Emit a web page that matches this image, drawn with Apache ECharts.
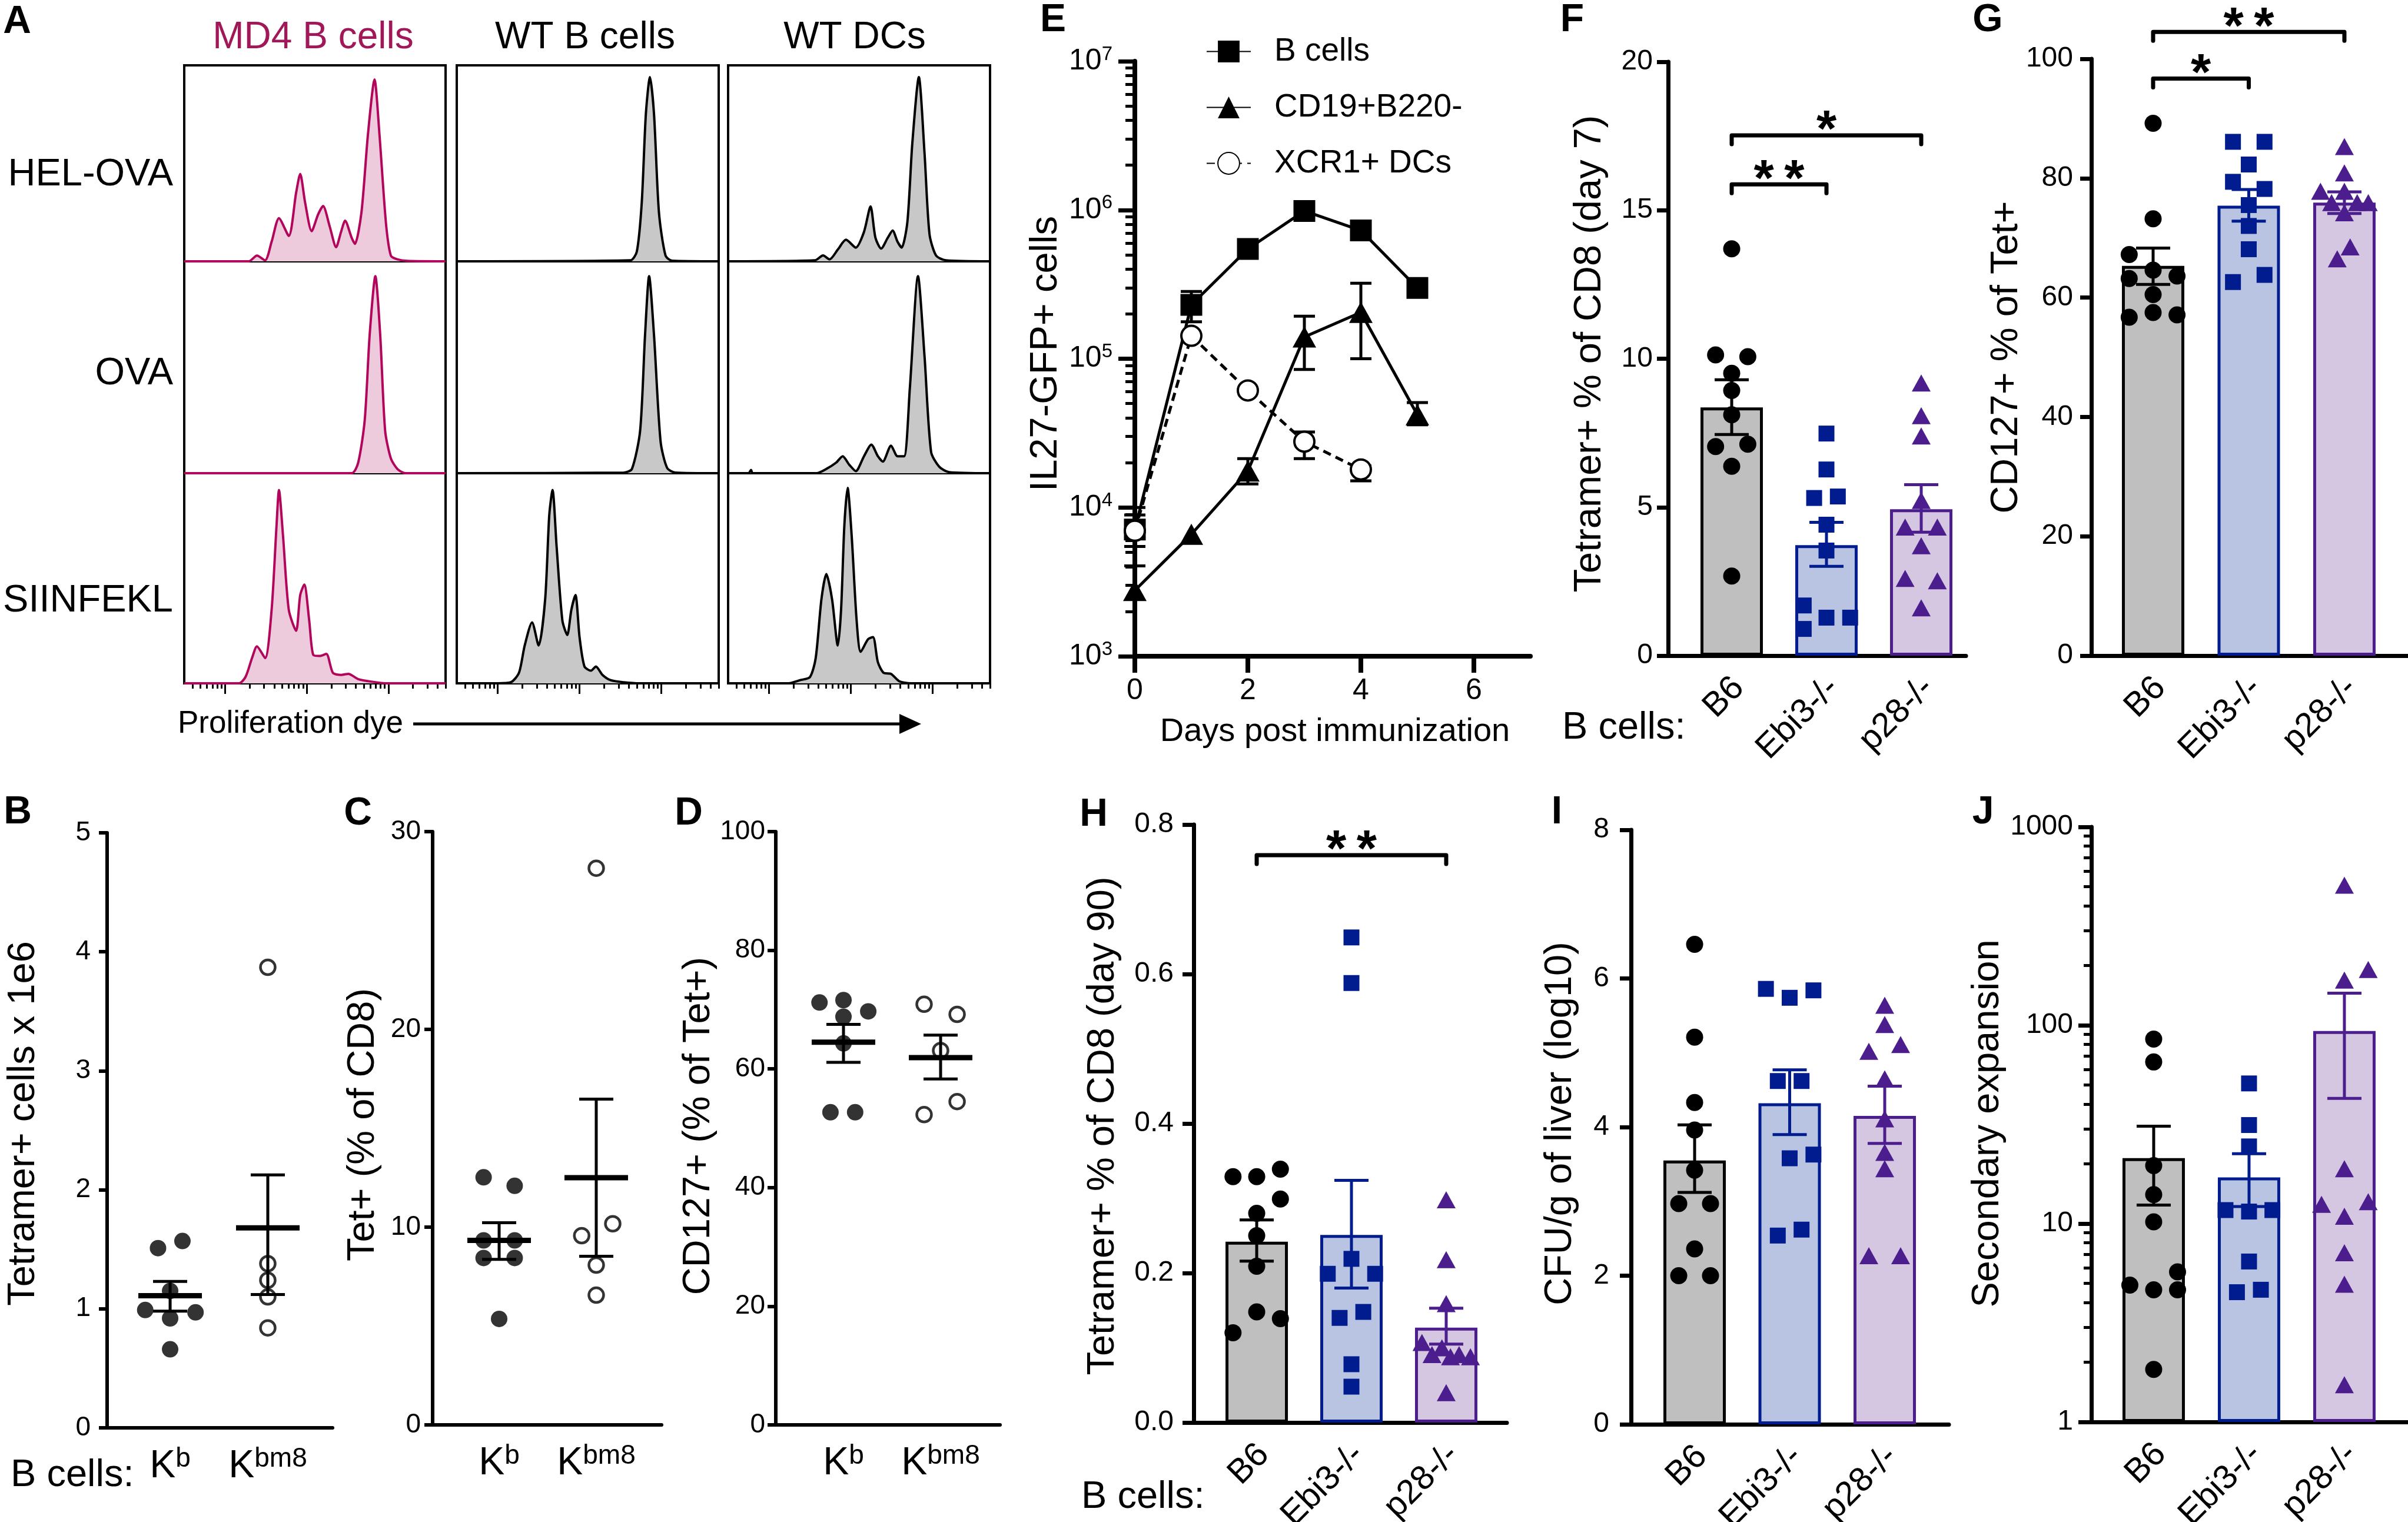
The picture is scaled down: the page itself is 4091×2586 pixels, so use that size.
<!DOCTYPE html>
<html><head><meta charset="utf-8">
<script src="https://cdn.jsdelivr.net/npm/echarts/dist/echarts.min.js"></script>
<style>html,body{margin:0;padding:0;background:#fff}#c{width:4091px;height:2586px}</style>
</head><body><div id="c"></div>
<script>
const FONT = '"Liberation Sans", Arial, Helvetica, sans-serif';

// ---------------- Panel A : proliferation histograms [log10 dye, % of mode] ----------------
const A_colTitles = ['MD4 B cells', 'WT B cells', 'WT DCs'];
const A_rowTitles = ['HEL-OVA', 'OVA', 'SIINFEKL'];
const A_MD4_HELOVA = [[0.5,0],[1.29,0],[1.39,2.9],[1.49,0.5],[1.57,10],[1.66,22],[1.78,13],[1.87,35],[1.92,44.6],[1.98,30],[2.06,15.4],[2.14,24],[2.2,28.2],[2.28,18],[2.36,7.2],[2.42,15],[2.47,20.7],[2.55,12],[2.59,8.9],[2.67,25],[2.75,65],[2.83,92.8],[2.89,65],[2.97,19.5],[3.03,2.9],[3.11,1],[3.23,0.2],[3.7,0]];
const A_WTB_HELOVA = [[0.5,0],[2.62,0.5],[2.7,5],[2.76,30],[2.81,75],[2.86,94],[2.91,75],[2.97,25],[3.05,3],[3.13,0.3],[3.7,0]];
const A_DC_HELOVA = [[0.5,0],[1.56,0.5],[1.66,3],[1.74,1],[1.84,6],[1.94,11],[2.06,7],[2.16,15],[2.24,28],[2.3,12],[2.37,6.5],[2.45,12],[2.51,15.7],[2.57,10],[2.62,7],[2.69,20],[2.75,60],[2.83,94],[2.9,55],[2.96,14],[3.04,3],[3.16,0.5],[3.7,0]];
const A_MD4_OVA = [[0.5,0],[2.55,0],[2.63,5],[2.71,25],[2.77,65],[2.84,93],[2.9,65],[2.96,20],[3.03,7],[3.11,2],[3.21,0],[3.7,0]];
const A_WTB_OVA = [[0.5,0],[2.54,0.3],[2.64,2],[2.74,20],[2.8,65],[2.85,93],[2.91,65],[2.99,15],[3.07,2.5],[3.17,0.3],[3.7,0]];
const A_DC_OVA = [[0.5,0],[0.75,0],[0.78,1.5],[0.8,0],[1.58,0],[1.7,2],[1.82,5],[1.9,8],[1.98,4],[2.06,1],[2.16,8],[2.25,13.5],[2.33,8],[2.39,5.5],[2.49,13],[2.57,8],[2.65,8],[2.72,40],[2.82,93],[2.9,55],[2.98,10],[3.08,3],[3.2,0.5],[3.7,0]];
const A_MD4_SIIN = [[0.5,0],[1.17,0],[1.25,3],[1.33,12],[1.39,17.6],[1.49,12],[1.57,35],[1.63,75],[1.66,92],[1.71,70],[1.78,35],[1.87,25],[1.92,42],[1.97,47],[2.03,30],[2.08,13.5],[2.16,13],[2.24,14],[2.32,5],[2.42,4],[2.51,4.5],[2.63,2],[2.79,0.8],[2.99,0],[3.7,0]];
const A_WTB_SIIN = [[0.5,0],[1.0,0],[1.16,0.5],[1.26,5],[1.33,18],[1.42,29],[1.5,18],[1.58,40],[1.63,80],[1.67,92],[1.72,65],[1.79,30],[1.85,23],[1.9,35],[1.95,42],[2.0,22],[2.06,8],[2.14,6],[2.2,8],[2.28,4],[2.38,1.5],[2.54,0.5],[2.74,0],[3.7,0]];
const A_DC_SIIN = [[0.5,0],[1.24,0],[1.38,1.5],[1.5,3],[1.57,12],[1.64,40],[1.7,52],[1.77,40],[1.84,18],[1.88,35],[1.92,75],[1.96,93],[2.01,70],[2.07,30],[2.12,15],[2.21,21],[2.27,22],[2.33,10],[2.4,5],[2.49,4.5],[2.59,1],[2.73,0],[3.7,0]];
const A_majorTicks = [1, 2, 3];

// ---------------- Panel E ----------------
const E_days = [0, 1, 2, 3, 4, 5];
const E_xTicks = [0, 2, 4, 6];
const E_Bcells = [7100, 230000, 547000, 985000, 728000, 299000];
const E_Bcells_err = [[4050, 10000], [177000, 283000], null, null, null, null];
const E_CD19 = [2770, 6600, 17600, 140000, 205000, 42000];
const E_CD19_err = [null, null, [14400, 21300], [84700, 193000], [100000, 322000], [36000, 50700]];
const E_XCR1 = [6970, 142500, 61200, 27700, 18000];
const E_XCR1_err = [[5470, 8900], null, null, [21300, 32200], [15100, 19000]];
const E_legend = ['B cells', 'CD19+B220-', 'XCR1+ DCs'];

// ---------------- Bar panels F-J ----------------
const GROUPS = ['B6', 'Ebi3-/-', 'p28-/-'];

const F_B6 = [13.7, 10.13, 10.07, 9.51, 8.93, 8.11, 7.04, 7.12, 6.38, 2.68];
const F_B6_jit = [0, -0.17, 0.17, 0, 0, 0, -0.17, 0.17, 0, 0];
const F_Ebi3 = [7.48, 6.27, 5.31, 5.36, 4.41, 3.54, 1.69, 0.9, 1.28, 1.28];
const F_Ebi3_jit = [0, 0, -0.13, 0.12, 0, 0, -0.24, -0.24, 0, 0.25];
const F_p28 = [9.18, 8.08, 7.4, 5.23, 4.33, 4.33, 3.7, 2.6, 2.52, 1.61];
const F_p28_jit = [0, 0, 0, 0, -0.17, 0.17, 0, -0.17, 0.17, 0];
const F_mean = [8.36, 3.72, 4.93];
const F_errLo = [7.45, 3.01, 4.16];
const F_errHi = [9.29, 4.49, 5.76];
const F_sig = [[0, 1, 15.87, '**'], [0, 2, 17.52, '*']];

const G_B6 = [89.2, 73.2, 67.2, 64.6, 63.2, 63.6, 60.5, 56.7, 57.5, 57.1];
const G_B6_jit = [0, 0, -0.25, 0, -0.25, 0.25, 0, -0.25, 0, 0.25];
const G_Ebi3 = [86.1, 86.1, 82.3, 79.4, 78.2, 75.5, 72.0, 68.1, 62.6, 63.8];
const G_Ebi3_jit = [-0.165, 0.165, 0, -0.165, 0.165, 0, 0, 0, -0.165, 0.165];
const G_p28 = [85.3, 80.9, 77.8, 77.8, 75.9, 75.9, 75.9, 74.2, 68.5, 66.5];
const G_p28_jit = [0, 0, -0.25, 0, -0.134, 0.134, 0.25, 0, 0.06, -0.075];
const G_mean = [65.3, 75.4, 75.9];
const G_errLo = [62.2, 72.8, 74.1];
const G_errHi = [68.3, 78.1, 77.7];
const G_sig = [[0, 1, 96.7, '*'], [0, 2, 104.5, '**']];

const H_B6 = [0.329, 0.329, 0.339, 0.299, 0.28, 0.25, 0.209, 0.148, 0.139, 0.12];
const H_B6_jit = [-0.25, 0, 0.25, 0.25, 0, 0, 0, 0, 0.25, -0.25];
const H_Ebi3 = [0.649, 0.588, 0.219, 0.199, 0.199, 0.14, 0.148, 0.078, 0.048];
const H_Ebi3_jit = [0, 0, 0, -0.25, 0.25, -0.125, 0.125, 0, 0];
const H_p28 = [0.298, 0.218, 0.159, 0.107, 0.091, 0.1, 0.088, 0.091, 0.088, 0.04];
const H_p28_jit = [0, 0, 0, -0.256, -0.15, -0.045, 0.045, 0.136, 0.256, 0];
const H_mean = [0.242, 0.251, 0.127];
const H_errLo = [0.216, 0.18, 0.105];
const H_errHi = [0.271, 0.324, 0.153];
const H_sig = [[0, 2, 0.759, '**']];

const I_B6 = [6.46, 5.21, 4.33, 3.96, 3.42, 2.97, 2.97, 2.36, 2.0, 2.0];
const I_B6_jit = [0, 0, 0, 0, 0, -0.167, 0.167, 0, -0.167, 0.167];
const I_Ebi3 = [5.86, 5.74, 5.84, 4.62, 4.62, 3.58, 3.63, 2.54, 2.62];
const I_Ebi3_jit = [-0.25, 0, 0.25, -0.125, 0.125, 0, 0.25, -0.125, 0.125];
const I_p28 = [5.64, 5.38, 5.02, 5.11, 4.65, 4.11, 3.66, 3.44, 2.27, 2.27];
const I_p28_jit = [0, 0, -0.167, 0.167, 0, 0, 0, 0, -0.167, 0.167];
const I_mean = [3.55, 4.32, 4.15];
const I_errLo = [3.12, 3.9, 3.78];
const I_errHi = [4.03, 4.77, 4.55];

const J_B6 = [85.1, 65.3, 19.6, 14.0, 10.2, 5.71, 4.9, 4.64, 4.64, 1.84];
const J_B6_jit = [0, 0, 0, 0, 0, 0.25, -0.25, 0, 0.25, 0];
const J_Ebi3 = [50.9, 31.4, 24.5, 11.7, 11.5, 11.7, 6.44, 4.51, 4.64];
const J_Ebi3_jit = [0, 0, 0, -0.247, 0, 0.245, 0, -0.127, 0.124];
const J_p28 = [508, 191, 169, 18.9, 12.5, 12.9, 10.9, 7.13, 4.95, 1.54];
const J_p28_jit = [0, 0.25, 0, 0, -0.24, 0.25, 0, 0, 0, 0];
const J_mean = [21.4, 17.1, 93.5];
const J_errLo = [12.4, 12.2, 42.8];
const J_errHi = [31.0, 22.5, 145];
const J_tickLabels = ['1', '10', '100', '1000'];

// ---------------- Dot panels B-D ----------------
const K_LABELS = ['{k|K}{s|b}', '{k|K}{s|bm8}'];
const B_Kb = [1.51, 1.57, 1.15, 0.99, 0.97, 0.92, 0.66];
const B_Kb_jit = [-0.124, 0.126, 0, -0.255, 0.26, 0, 0];
const B_Kbm8 = [3.87, 1.38, 1.24, 1.1, 0.84];
const B_Kbm8_jit = [0, 0, 0, 0, 0];
const B_mean = [1.11, 1.68], B_errLo = [0.98, 1.12], B_errHi = [1.23, 2.125];

const C_Kb = [12.52, 12.09, 9.33, 9.33, 8.44, 8.44, 5.36];
const C_Kb_jit = [-0.16, 0.16, -0.16, 0.16, -0.16, 0.16, 0];
const C_Kbm8 = [28.15, 9.57, 10.17, 8.08, 6.56];
const C_Kbm8_jit = [0, -0.15, 0.17, 0, 0];
const C_mean = [9.33, 12.5], C_errLo = [8.37, 8.53], C_errHi = [10.22, 16.47];

const D_Kb = [71.2, 71.6, 69.7, 68.8, 64.3, 52.7, 52.7];
const D_Kb_jit = [-0.247, 0, 0.255, 0, 0, -0.134, 0.12];
const D_Kbm8 = [70.9, 69.2, 63.1, 54.5, 52.3];
const D_Kbm8_jit = [-0.17, 0.17, 0, 0.17, -0.17];
const D_mean = [64.5, 61.9], D_errLo = [61.1, 58.3], D_errHi = [67.5, 65.7];

// ---------------- styling ----------------
const FILL = ['#bfbfbf', '#b9c4e3', '#d5c6e2'];
const EDGE = ['#000000', '#001c8e', '#4c1d8d'];
const SYM = ['circle', 'rect', 'triangle'];
const SYMSIZE = [29, 27, [32, 29]];
const MD4_LINE = '#b1065c', MD4_FILL = '#edcbdc', MD4_TITLE = '#a01858';
const LABEL_SHIFT = 0.075; // rotated group labels sit slightly right of the bar centre

const grids = [], xAxes = [], yAxes = [], series = [], graphics = [];
function addGrid(l, t, w, h, extra) { grids.push(Object.assign({left: l, top: t, width: w, height: h, containLabel: false, outerBoundsMode: 'none'}, extra || {})); return grids.length - 1; }
function addX(c) { xAxes.push(c); return xAxes.length - 1; }
function addY(c) { yAxes.push(c); return yAxes.length - 1; }
function ln(x1, y1, x2, y2, w, color, cap) { return {type: 'line', shape: {x1, y1, x2, y2}, style: {stroke: color, lineWidth: w, lineCap: cap || 'butt'}}; }
function txt(x, y, s, size, o) {
  o = o || {};
  graphics.push({type: 'text', x: x, y: y, rotation: o.rot || 0, z: 100,
    style: {text: s, font: (o.bold ? 'bold ' : '') + size + 'px ' + FONT, fill: o.color || '#000',
      align: o.align || 'center', verticalAlign: 'middle', textAlign: o.align || 'center', textVerticalAlign: 'middle'}});
}
function errRender(color, capHalf, lw) {
  return function (params, api) {
    const x = api.value(0), lo = api.value(1), hi = api.value(2);
    const a = api.coord([x, lo]), b = api.coord([x, hi]);
    return {type: 'group', children: [
      ln(a[0], a[1], b[0], b[1], lw, color),
      ln(a[0] - capHalf, a[1], a[0] + capHalf, a[1], lw, color),
      ln(b[0] - capHalf, b[1], b[0] + capHalf, b[1], lw, color)]};
  };
}
function sigRender(list) {
  return function (params, api) {
    const s = list[params.dataIndex];
    const p1 = api.coord([s[0], s[2]]), p2 = api.coord([s[1], s[2]]);
    return {type: 'group', children: [
      {type: 'polyline', shape: {points: [[p1[0], p1[1] + 15], [p1[0], p1[1]], [p2[0], p2[1]], [p2[0], p2[1] + 15]]},
        style: {stroke: '#000', lineWidth: 7, fill: null, lineJoin: 'round', lineCap: 'round'}},
      {type: 'text', x: (p1[0] + p2[0]) / 2, y: p1[1] - 6,
        style: {text: s[3].split('').join('\u2009'), font: 'bold 88px ' + FONT, fill: '#000', align: 'center', verticalAlign: 'middle', textAlign: 'center', textVerticalAlign: 'middle'}}]};
  };
}
function meanSemRender(meanHalf, capHalf) {
  return function (params, api) {
    const x = api.value(0), m = api.value(1), lo = api.value(2), hi = api.value(3);
    const pm = api.coord([x, m]), pl = api.coord([x, lo]), ph = api.coord([x, hi]);
    return {type: 'group', children: [
      ln(pm[0] - meanHalf, pm[1], pm[0] + meanHalf, pm[1], 9, '#000'),
      ln(pl[0], pl[1], ph[0], ph[1], 5, '#000'),
      ln(pl[0] - capHalf, pl[1], pl[0] + capHalf, pl[1], 5, '#000'),
      ln(ph[0] - capHalf, ph[1], ph[0] + capHalf, ph[1], 5, '#000')]};
  };
}

// ---------- Panel A build ----------
const A_hist = [[A_MD4_HELOVA, A_WTB_HELOVA, A_DC_HELOVA], [A_MD4_OVA, A_WTB_OVA, A_DC_OVA], [A_MD4_SIIN, A_WTB_SIIN, A_DC_SIIN]];
const A_left = [313, 776, 1237], A_width = [444, 445, 445];
const A_top = [111, 444, 804], A_height = [333, 360, 357];
const A_minorTicks = [];
for (let n = 0; n <= 3; n++) for (let k = 2; k <= 9; k++) { const v = n + Math.log10(k); if (v > 0.5 && v < 3.7) A_minorTicks.push(v); }
for (let r = 0; r < 3; r++) {
  for (let c = 0; c < 3; c++) {
    const g = addGrid(A_left[c], A_top[r], A_width[c], A_height[r], {show: true, borderColor: '#000', borderWidth: 4, backgroundColor: 'rgba(0,0,0,0)'});
    const xi = addX({type: 'value', gridIndex: g, position: 'bottom', min: 0.5, max: 3.7, axisLine: {show: false}, splitLine: {show: false}, axisLabel: {show: false},
      axisTick: {show: r === 2, customValues: A_majorTicks, length: 18, lineStyle: {width: 3, color: '#000'}}});
    if (r === 2) addX({type: 'value', gridIndex: g, position: 'bottom', min: 0.5, max: 3.7, axisLine: {show: false}, splitLine: {show: false}, axisLabel: {show: false},
      axisTick: {show: true, customValues: A_minorTicks, length: 9, lineStyle: {width: 3, color: '#000'}}});
    const yi = addY({type: 'value', gridIndex: g, min: 0, max: 100, show: false});
    series.push({type: 'line', xAxisIndex: xi, yAxisIndex: yi, data: A_hist[r][c], smooth: 0.25, symbol: 'none', z: 2,
      lineStyle: {color: c === 0 ? MD4_LINE : '#000', width: 4}, areaStyle: {color: c === 0 ? MD4_FILL : '#c8c8c8', opacity: 1}});
  }
}
txt(29, 38, 'A', 66, {bold: true});
txt(532, 64, A_colTitles[0], 64, {color: MD4_TITLE});
txt(994, 64, A_colTitles[1], 64);
txt(1452, 64, A_colTitles[2], 64);
txt(294, 297, A_rowTitles[0], 65, {align: 'right'});
txt(294, 635, A_rowTitles[1], 65, {align: 'right'});
txt(294, 1021, A_rowTitles[2], 65, {align: 'right'});
txt(302, 1230, 'Proliferation dye', 53, {align: 'left'});
graphics.push({type: 'line', shape: {x1: 702, y1: 1230, x2: 1535, y2: 1230}, style: {stroke: '#000', lineWidth: 5}});
graphics.push({type: 'polygon', shape: {points: [[1528, 1213], [1565, 1230], [1528, 1247]]}, style: {fill: '#000'}});

// ---------- Panel E build ----------
const E_minorTicks = [];
for (let n = 3; n <= 6; n++) for (let k = 2; k <= 9; k++) E_minorTicks.push(n + Math.log10(k));
const gE = addGrid(1928, 104, 672, 1011);
const xE = addX({type: 'value', gridIndex: gE, min: 0, max: 7, splitLine: {show: false},
  axisLine: {lineStyle: {color: '#000', width: 8}},
  axisTick: {customValues: E_xTicks, length: 28, lineStyle: {width: 8, color: '#000'}},
  axisLabel: {customValues: E_xTicks, fontSize: 50, color: '#000', margin: 34, fontFamily: FONT}});
const yE = addY({type: 'value', gridIndex: gE, min: 3, max: 7, interval: 1, splitLine: {show: false},
  axisLine: {onZero: false, lineStyle: {color: '#000', width: 8}},
  axisTick: {length: 28, lineStyle: {width: 7, color: '#000'}},
  axisLabel: {margin: 38, formatter: v => '{b|10}{s|' + v + '}',
    rich: {b: {fontSize: 50, color: '#000', fontFamily: FONT, lineHeight: 56}, s: {fontSize: 33, color: '#000', fontFamily: FONT, verticalAlign: 'top', lineHeight: 33}}}});
addY({type: 'value', gridIndex: gE, position: 'left', min: 3, max: 7, splitLine: {show: false}, axisLine: {show: false, onZero: false}, axisLabel: {show: false},
  axisTick: {customValues: E_minorTicks, length: 16, lineStyle: {width: 5, color: '#000'}}});
function logPts(xs, ys) { return ys.map((v, i) => [xs[i], Math.log10(v)]); }
function logErr(xs, errs) { const out = []; errs.forEach((e, i) => { if (e) out.push([xs[i], Math.log10(e[0]), Math.log10(e[1])]); }); return out; }
series.push({name: E_legend[0], type: 'line', xAxisIndex: xE, yAxisIndex: yE, data: logPts(E_days, E_Bcells), symbol: 'rect', symbolSize: 37, z: 3,
  itemStyle: {color: '#000'}, lineStyle: {color: '#000', width: 5}});
series.push({name: E_legend[1], type: 'line', xAxisIndex: xE, yAxisIndex: yE, data: logPts(E_days, E_CD19), symbol: 'triangle', symbolSize: [40, 36], z: 3,
  itemStyle: {color: '#000'}, lineStyle: {color: '#000', width: 5}});
series.push({name: E_legend[2], type: 'line', xAxisIndex: xE, yAxisIndex: yE, data: logPts(E_days, E_XCR1), symbol: 'circle', symbolSize: 34, z: 4,
  itemStyle: {color: '#fff', borderColor: '#000', borderWidth: 4}, lineStyle: {color: '#000', width: 5, type: [14, 9]}});
[E_Bcells_err, E_CD19_err, E_XCR1_err].forEach(e => {
  series.push({type: 'custom', xAxisIndex: xE, yAxisIndex: yE, data: logErr(E_days, e), renderItem: errRender('#000', 18, 5), z: 2, silent: true});
});
txt(1789, 35, 'E', 66, {bold: true});
txt(1777, 601, 'IL27-GFP+ cells', 65, {rot: Math.PI / 2});
txt(2268, 1244, 'Days post immunization', 56);

// ---------- Bar panels ----------
function barPanel(p) {
  const g = addGrid(p.rect[0], p.rect[1], p.rect[2], p.rect[3]);
  const labelAt = GROUPS.map((_, i) => i + LABEL_SHIFT);
  const xi = addX({type: 'value', gridIndex: g, min: p.xMin, max: p.xMax, splitLine: {show: false},
    axisLine: {onZero: false, lineStyle: {color: '#000', width: 7}}, axisTick: {show: false},
    axisLabel: {customValues: labelAt, formatter: v => GROUPS[Math.round(v)], rotate: 45, fontSize: 58, color: '#000', margin: 46, fontFamily: FONT}});
  const yi = addY({type: 'value', gridIndex: g, min: p.yMin, max: p.yMax, interval: p.interval, splitLine: {show: false},
    axisLine: {onZero: false, lineStyle: {color: '#000', width: 7}}, axisTick: {length: p.tickLen || 19, lineStyle: {width: 7, color: '#000'}},
    axisLabel: {fontSize: 48, color: '#000', margin: p.labelMargin || 28, fontFamily: FONT, formatter: p.fmt}});
  if (p.minor) addY({type: 'value', gridIndex: g, position: 'left', min: p.yMin, max: p.yMax, splitLine: {show: false}, axisLine: {show: false, onZero: false}, axisLabel: {show: false},
    axisTick: {customValues: p.minor, length: 13, lineStyle: {width: 5, color: '#000'}}});
  const tf = p.tf || (v => v);
  series.push({type: 'bar', xAxisIndex: xi, yAxisIndex: yi, barWidth: 106, z: 1, silent: true,
    data: p.mean.map((m, i) => ({value: [i, tf(m)], itemStyle: {color: FILL[i], borderColor: EDGE[i], borderWidth: 5}}))});
  p.vals.forEach((vals, gi) => {
    series.push({type: 'scatter', xAxisIndex: xi, yAxisIndex: yi, symbol: SYM[gi], symbolSize: SYMSIZE[gi], z: 3, silent: true,
      itemStyle: {color: EDGE[gi], opacity: 1}, data: vals.map((v, k) => [gi + p.jit[gi][k], tf(v)])});
    series.push({type: 'custom', xAxisIndex: xi, yAxisIndex: yi, z: 4, silent: true, renderItem: errRender(EDGE[gi], 29, 5),
      data: [[gi, tf(p.lo[gi]), tf(p.hi[gi])]]});
  });
  if (p.sig) series.push({type: 'custom', xAxisIndex: xi, yAxisIndex: yi, z: 5, silent: true, clip: false, renderItem: sigRender(p.sig),
    data: p.sig.map(s => [s[0], s[1], s[2]])});
}
barPanel({rect: [2834, 105, 506, 1009], xMin: -0.671, xMax: 2.472, yMin: 0, yMax: 20, interval: 5, labelMargin: 26,
  vals: [F_B6, F_Ebi3, F_p28], jit: [F_B6_jit, F_Ebi3_jit, F_p28_jit], mean: F_mean, lo: F_errLo, hi: F_errHi, sig: F_sig});
barPanel({rect: [3553, 100, 538, 1014], xMin: -0.646, xMax: 2.665, yMin: 0, yMax: 100, interval: 20, labelMargin: 31,
  vals: [G_B6, G_Ebi3, G_p28], jit: [G_B6_jit, G_Ebi3_jit, G_p28_jit], mean: G_mean, lo: G_errLo, hi: G_errHi, sig: G_sig});
barPanel({rect: [2028, 1401, 532, 1016], xMin: -0.665, xMax: 2.64, yMin: 0, yMax: 0.8, interval: 0.2, labelMargin: 34, fmt: v => v.toFixed(1),
  vals: [H_B6, H_Ebi3, H_p28], jit: [H_B6_jit, H_Ebi3_jit, H_p28_jit], mean: H_mean, lo: H_errLo, hi: H_errHi, sig: H_sig});
barPanel({rect: [2771, 1410, 540, 1010], xMin: -0.669, xMax: 2.675, yMin: 0, yMax: 8, interval: 2, labelMargin: 37,
  vals: [I_B6, I_Ebi3, I_p28], jit: [I_B6_jit, I_Ebi3_jit, I_p28_jit], mean: I_mean, lo: I_errLo, hi: I_errHi});
const J_minorTicks = [];
for (let n = 0; n <= 2; n++) for (let k = 2; k <= 9; k++) J_minorTicks.push(n + Math.log10(k));
barPanel({rect: [3553, 1405, 538, 1011], xMin: -0.654, xMax: 2.667, yMin: 0, yMax: 3, interval: 1, labelMargin: 31, tickLen: 22,
  fmt: v => J_tickLabels[Math.round(v)], minor: J_minorTicks, tf: v => Math.log10(v),
  vals: [J_B6, J_Ebi3, J_p28], jit: [J_B6_jit, J_Ebi3_jit, J_p28_jit], mean: J_mean, lo: J_errLo, hi: J_errHi});

txt(2671, 35, 'F', 66, {bold: true});
txt(3377, 35, 'G', 66, {bold: true});
txt(1858, 1385, 'H', 66, {bold: true});
txt(2645, 1381, 'I', 66, {bold: true});
txt(3369, 1381, 'J', 66, {bold: true});
txt(2701, 601, 'Tetramer+ % of CD8 (day 7)', 65, {rot: Math.PI / 2});
txt(3409, 607, 'CD127+ % of Tet+', 65, {rot: Math.PI / 2});
txt(1874, 1913, 'Tetramer+ % of CD8 (day 90)', 65, {rot: Math.PI / 2});
txt(2651, 1909, 'CFU/g of liver (log10)', 65, {rot: Math.PI / 2});
txt(3377, 1909, 'Secondary expansion', 65, {rot: Math.PI / 2});
txt(2654, 1237, 'B cells:', 65, {align: 'left'});
txt(1837, 2544, 'B cells:', 65, {align: 'left'});

// ---------- Dot panels ----------
function dotPanel(p) {
  const g = addGrid(p.rect[0], p.rect[1], p.rect[2], p.rect[3]);
  const xi = addX({type: 'value', gridIndex: g, min: p.xMin, max: p.xMax, splitLine: {show: false},
    axisLine: {onZero: false, lineStyle: {color: '#000', width: 6}}, axisTick: {show: false},
    axisLabel: {customValues: [0, 1], formatter: v => K_LABELS[Math.round(v)], margin: 30,
      rich: {k: {fontSize: 66, color: '#000', fontFamily: FONT, lineHeight: 72}, s: {fontSize: 46, color: '#000', fontFamily: FONT, lineHeight: 46, verticalAlign: 'top'}}}});
  const yi = addY({type: 'value', gridIndex: g, min: p.yMin, max: p.yMax, interval: p.interval, splitLine: {show: false},
    axisLine: {onZero: false, lineStyle: {color: '#000', width: 6}}, axisTick: {length: 14, lineStyle: {width: 6, color: '#000'}},
    axisLabel: {fontSize: 46, color: '#000', margin: p.labelMargin, fontFamily: FONT}});
  series.push({type: 'scatter', xAxisIndex: xi, yAxisIndex: yi, symbol: 'circle', symbolSize: 28, z: 3, silent: true,
    itemStyle: {color: '#000'}, data: p.vals[0].map((v, k) => [p.jit[0][k], v])});
  series.push({type: 'scatter', xAxisIndex: xi, yAxisIndex: yi, symbol: 'circle', symbolSize: 25, z: 3, silent: true,
    itemStyle: {color: '#fff', borderColor: '#000', borderWidth: 4.5}, data: p.vals[1].map((v, k) => [1 + p.jit[1][k], v])});
  series.push({type: 'custom', xAxisIndex: xi, yAxisIndex: yi, z: 4, silent: true, renderItem: meanSemRender(54, 29),
    data: p.mean.map((m, i) => [i, m, p.lo[i], p.hi[i]])});
}
dotPanel({rect: [182, 1415, 383, 1011], xMin: -0.645, xMax: 1.663, yMin: 0, yMax: 5, interval: 1, labelMargin: 28,
  vals: [B_Kb, B_Kbm8], jit: [B_Kb_jit, B_Kbm8_jit], mean: B_mean, lo: B_errLo, hi: B_errHi});
dotPanel({rect: [735, 1413, 389, 1008], xMin: -0.685, xMax: 1.673, yMin: 0, yMax: 30, interval: 10, labelMargin: 20,
  vals: [C_Kb, C_Kbm8], jit: [C_Kb_jit, C_Kbm8_jit], mean: C_mean, lo: C_errLo, hi: C_errHi});
dotPanel({rect: [1318, 1413, 381, 1008], xMin: -0.697, xMax: 1.612, yMin: 0, yMax: 100, interval: 20, labelMargin: 18,
  vals: [D_Kb, D_Kbm8], jit: [D_Kb_jit, D_Kbm8_jit], mean: D_mean, lo: D_errLo, hi: D_errHi});
txt(30, 1381, 'B', 66, {bold: true});
txt(608, 1383, 'C', 66, {bold: true});
txt(1170, 1383, 'D', 66, {bold: true});
txt(40, 1909, 'Tetramer+ cells x 1e6', 65, {rot: Math.PI / 2});
txt(617, 1911, 'Tet+ (% of CD8)', 65, {rot: Math.PI / 2});
txt(1187, 1913, 'CD127+ (% of Tet+)', 65, {rot: Math.PI / 2});
txt(18, 2507, 'B cells:', 65, {align: 'left'});

const chart = echarts.init(document.getElementById('c'), null, {renderer: 'canvas'});
chart.setOption({
  animation: false,
  backgroundColor: '#fff',
  textStyle: {fontFamily: FONT},
  grid: grids, xAxis: xAxes, yAxis: yAxes, series: series, graphic: {elements: graphics},
  legend: {data: E_legend, orient: 'vertical', left: 2044, top: 55, itemWidth: 75, itemHeight: 46, itemGap: 40, selectedMode: false,
    textStyle: {fontSize: 55, color: '#000', fontFamily: FONT, lineHeight: 55, padding: [0, 0, 0, 35]}}
});
</script></body></html>
